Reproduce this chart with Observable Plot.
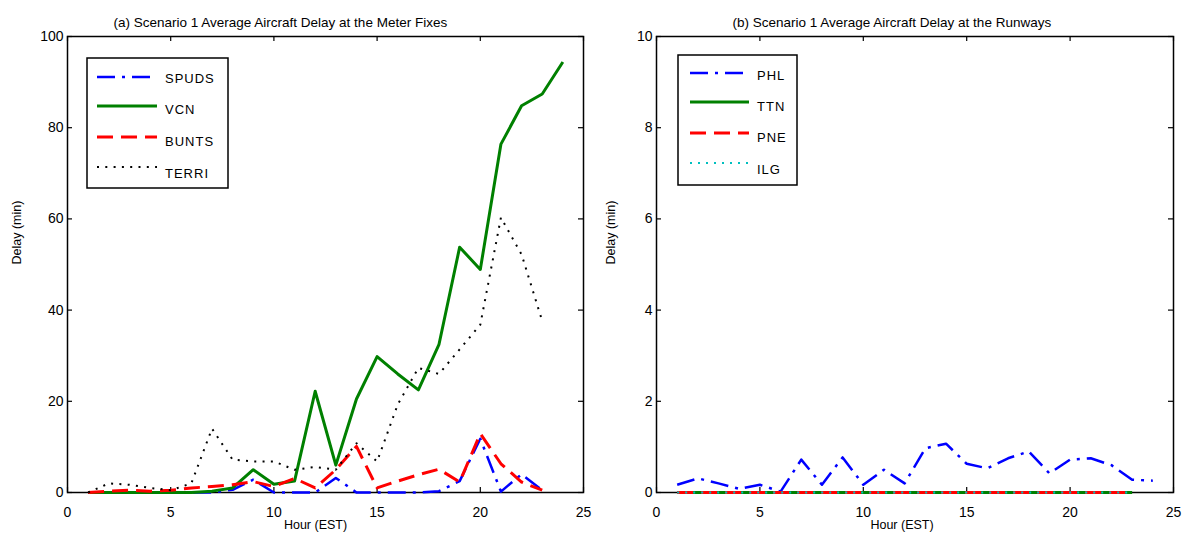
<!DOCTYPE html>
<html><head><meta charset="utf-8">
<script src="https://cdn.jsdelivr.net/npm/d3@7"></script>
<script src="https://cdn.jsdelivr.net/npm/@observablehq/plot@0.6"></script>
<style>
body{margin:0;background:#fff;}
#wrap{display:flex;width:1188px;height:552px;}
.panel{position:relative;width:594px;height:552px;}
</style></head><body><div id="wrap"></div>
<script>
// ---------- data ----------
const hours23 = [1,2,3,4,5,6,7,8,9,10,11,12,13,14,15,16,17,18,19,20,21,22,23];
const hours24 = [1,2,3,4,5,6,7,8,9,10,11,12,13,14,15,16,17,18,19,20,21,22,23,24];

// (a) meter fixes
const spuds = [0,0,0,0,0,0,0,0.6,2.8,0,0,0,3.2,0,0,0,0,0.3,2.5,11.8,0.2,4,0.5];
const vcn   = [0,0,0,0,0,0,0.3,1,5,1.8,2.5,22.2,6,20.5,29.8,26,22.5,32.5,53.8,48.9,76.4,84.8,87.4,94.4];
const bunts = [0,0.3,0.5,0.3,0.5,1,1.3,1.7,2.4,1.3,3.1,1,5,10.1,1,2.5,3.9,5.1,2.3,12.9,6.3,2.3,0.5];
const terri = [0,2,1.7,1,0.5,2,14,7.2,6.8,6.8,5,5.6,5,10.8,6.8,19.3,27.3,26,31.4,36.8,60.3,52.2,37.6];

// (b) runways
const phl = [0.17,0.31,0.2,0.08,0.17,0.02,0.72,0.17,0.77,0.17,0.5,0.2,0.97,1.07,0.63,0.53,0.75,0.9,0.42,0.72,0.75,0.6,0.28,0.26];
const ttn = [0,0,0,0,0,0,0,0,0,0,0,0,0,0,0,0,0,0,0,0,0,0,0];
const pne = [0,0,0,0,0,0,0,0,0,0,0,0,0,0,0,0,0,0,0,0,0,0,0];
const ilg = [0,0,0,0,0,0,0,0,0,0,0,0,0,0,0,0,0,0,0,0,0,0,0];

const xTicks = [0,5,10,15,20,25];
const yTicksA = [0,20,40,60,80,100];
const yTicksB = [0,2,4,6,8,10];

const titleA = "(a) Scenario 1 Average Aircraft Delay at the Meter Fixes";
const titleB = "(b) Scenario 1 Average Aircraft Delay at the Runways";
const xLabel = "Hour (EST)";
const yLabel = "Delay (min)";

// ---------- styles ----------
const STY = {
  blue:  {stroke:"#0000ff", strokeWidth:2.5, dash:"18,7,3,7"},
  green: {stroke:"#008000", strokeWidth:3,   dash:null},
  red:   {stroke:"#ff0000", strokeWidth:3,   dash:"16,8"},
  black: {stroke:"#000000", strokeWidth:2,   dash:"2,6.3"},
  cyan:  {stroke:"#00bfbf", strokeWidth:2,   dash:"2,6"}
};

const seriesA = [
  {name:"SPUDS", hours:hours23, values:spuds, s:STY.blue},
  {name:"VCN",   hours:hours24, values:vcn,   s:STY.green},
  {name:"BUNTS", hours:hours23, values:bunts, s:STY.red},
  {name:"TERRI", hours:hours23, values:terri, s:STY.black}
];
const seriesB = [
  {name:"PHL", hours:hours24, values:phl, s:STY.blue},
  {name:"TTN", hours:hours23, values:ttn, s:STY.green},
  {name:"PNE", hours:hours23, values:pne, s:STY.red},
  {name:"ILG", hours:hours23, values:ilg, s:STY.cyan}
];

function tidy(ser){ return ser.hours.map((h,i)=>({hour:h, delay:ser.values[i]})); }

function panel(cfg){
  const W = 594, H = 552;
  const FW = W - cfg.ml - cfg.mr, FH = H - cfg.mt - cfg.mb;
  const lineMarks = cfg.series.map(ser => Plot.line(tidy(ser), {
    x:"hour", y:"delay", stroke:ser.s.stroke, strokeWidth:ser.s.strokeWidth,
    strokeDasharray:ser.s.dash || undefined, strokeLinecap:"butt", strokeLinejoin:"round"
  }));
  const svg = Plot.plot({
    width:W, height:H,
    marginLeft:cfg.ml, marginRight:cfg.mr, marginTop:cfg.mt, marginBottom:cfg.mb,
    style:{fontFamily:"'Liberation Sans', Arial, sans-serif", fontSize:"14px", background:"#fff", color:"#000"},
    x:{domain:[0,25]},
    y:{domain:cfg.yDomain},
    marks:[
      Plot.frame({stroke:"#000", strokeWidth:1.5}),
      Plot.tickX(xTicks, {x:d=>d, insetTop:FH-5, stroke:"#000", strokeWidth:1.2}),
      Plot.tickX(xTicks, {x:d=>d, insetBottom:FH-5, stroke:"#000", strokeWidth:1.2}),
      Plot.tickY(cfg.yTicks, {y:d=>d, insetLeft:FW-5, stroke:"#000", strokeWidth:1.2}),
      Plot.tickY(cfg.yTicks, {y:d=>d, insetRight:FW-5, stroke:"#000", strokeWidth:1.2}),
      ...lineMarks,
      Plot.axisX({ticks:xTicks, tickSize:0, tickPadding:15, label:null, fontSize:14}),
      Plot.axisY({ticks:cfg.yTicks, tickSize:0, tickPadding:4, label:null, fontSize:14}),
      Plot.text([cfg.title], {frameAnchor:"top-left", dx:cfg.titleDx, dy:-19, textAnchor:"start", fontSize:13.5}),
      Plot.text([xLabel], {frameAnchor:"bottom", dx:cfg.xlDx, dy:36, fontSize:12.5}),
      Plot.text([yLabel], {frameAnchor:"left", dx:cfg.ylDx, rotate:-90, fontSize:12.5})
    ]
  });
  // legend box (drawn on top)
  const L = cfg.legend;
  const g = d3.select(svg).append("g").attr("text-anchor","start");
  g.append("rect").attr("x",L.x).attr("y",L.y).attr("width",L.w).attr("height",L.h)
    .attr("fill","#fff").attr("stroke","#000").attr("stroke-width",1.5);
  cfg.series.forEach((ser,i)=>{
    const yy = L.rows[i];
    g.append("line").attr("x1",L.lx1).attr("x2",L.lx2).attr("y1",yy).attr("y2",yy)
      .attr("stroke",ser.s.stroke).attr("stroke-width",ser.s.strokeWidth)
      .attr("stroke-dasharray",ser.s.dash || null);
    g.append("text").attr("x",L.tx).attr("y",yy + L.toff[i]).attr("dominant-baseline","middle")
      .attr("text-anchor","start")
      .attr("font-family","'Liberation Sans', Arial, sans-serif").attr("font-size",13)
      .attr("letter-spacing","1px").text(ser.name);
  });
  const div = document.createElement("div");
  div.className = "panel";
  div.appendChild(svg);
  return div;
}

const wrap = document.getElementById("wrap");
wrap.appendChild(panel({
  ml:67, mr:11, mt:36, mb:60, yDomain:[0,100], yTicks:yTicksA, series:seriesA,
  title:titleA, titleDx:46, xlDx:-10, ylDx:-51,
  legend:{x:87, y:58, w:141, h:130, lx1:97, lx2:157, tx:165, rows:[77,106,137,167], toff:[3,5,6,8]}
}));
wrap.appendChild(panel({
  ml:62, mr:15, mt:36, mb:60, yDomain:[0,10], yTicks:yTicksB, series:seriesB,
  title:titleB, titleDx:76, xlDx:-13, ylDx:-46,
  legend:{x:84, y:55, w:119, h:130, lx1:96, lx2:155, tx:163, rows:[73,102,133,163], toff:[4,6,6,8]}
}));
</script></body></html>
